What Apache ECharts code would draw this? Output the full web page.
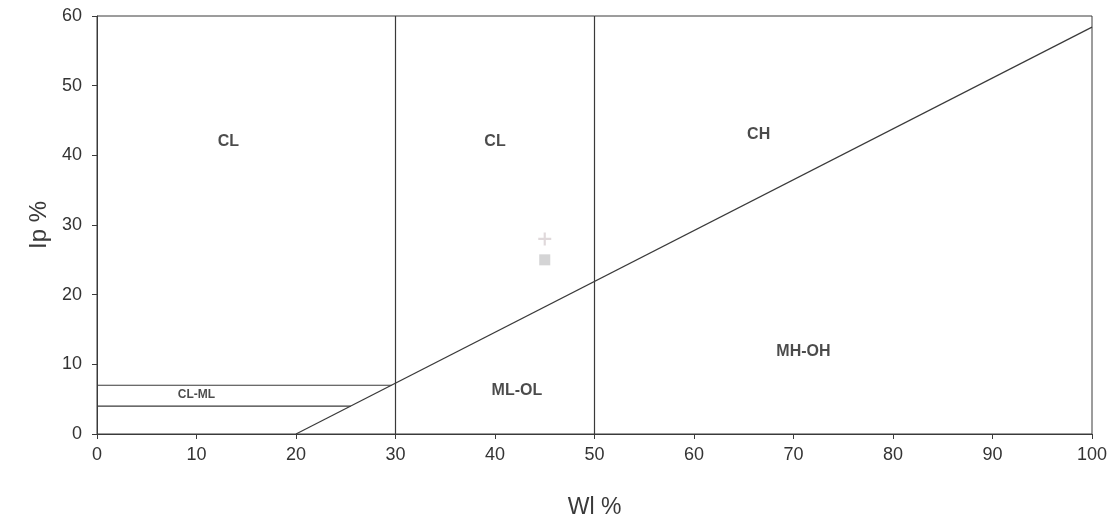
<!DOCTYPE html>
<html><head><meta charset="utf-8">
<script src="https://cdn.jsdelivr.net/npm/echarts@6/dist/echarts.min.js"></script>
<style>html,body{margin:0;padding:0;background:#fff}#c{width:1120px;height:519px}</style>
</head><body><div id="c"></div>
<script>
// Tick labels
const xTicks = [0,10,20,30,40,50,60,70,80,90,100];
const yTicks = [0,10,20,30,40,50,60];
// Boundary lines (WL %, Ip %)
const aLine = [[20,0],[100,58.4]];
const line30 = [[30,0],[30,60]];
const line50 = [[50,0],[50,60]];
const clml7 = [[0,7],[29.6,7]];
const clml4 = [[0,4],[25.5,4]];
// Zone names and positions
const zoneNames = ['CL','CL','CH','CL-ML','ML-OL','MH-OH'];
const zoneWL = [13.2,40,66.5,10,42.2,71];
const zoneIp = [42,42,43,5.6,6.2,11.8];
const zoneSize = [16,16,16,12,16,16];
// Sample points
const plusPts = [[45,28]];
const squarePts = [[45,25]];

const lineStyle = {color:'#3a3a3a', width:1.2};
const seg = (d)=>({type:'line', data:d, symbol:'none', lineStyle, silent:true, animation:false});

const chart = echarts.init(document.getElementById('c'));
chart.setOption({
  animation:false,
  grid:{left:97,right:28,top:16,bottom:85,containLabel:false,outerBoundsMode:'none',
    show:true,borderColor:'#3a3a3a',borderWidth:1},
  xAxis:{type:'value',min:0,max:100,interval:10,
    name:'Wl %',nameLocation:'middle',nameGap:62,
    nameTextStyle:{fontFamily:'Liberation Sans',fontSize:23,color:'#3a3a3a'},
    axisLine:{show:true,onZero:false,lineStyle:{color:'#3a3a3a'}},
    axisTick:{show:true,length:5,lineStyle:{color:'#3a3a3a'}},
    axisLabel:{fontFamily:'Liberation Sans',fontSize:18,color:'#333',margin:12,
      formatter:(v)=>xTicks.includes(v)?String(v):''},
    splitLine:{show:false}},
  yAxis:{type:'value',min:0,max:60,interval:10,
    name:'Ip %',nameLocation:'middle',nameGap:66,nameRotate:90,
    nameTextStyle:{fontFamily:'Liberation Sans',fontSize:24,color:'#3a3a3a',padding:[0,0,-55,0]},
    axisLine:{show:true,onZero:false,lineStyle:{color:'#3a3a3a'}},
    axisTick:{show:true,length:5,lineStyle:{color:'#3a3a3a'}},
    axisLabel:{fontFamily:'Liberation Sans',fontSize:18,color:'#333',margin:15,
      formatter:(v)=>yTicks.includes(v)?String(v):''},
    splitLine:{show:false}},
  series:[
    seg(aLine), seg(line30), seg(line50), seg(clml7), seg(clml4),
    {type:'scatter',symbolSize:0,silent:true,
      data:zoneNames.map((n,i)=>({value:[zoneWL[i],zoneIp[i]],name:n,
        label:{show:true,position:'inside',formatter:n,fontFamily:'Liberation Sans',
          fontWeight:'bold',fontSize:zoneSize[i],color:'#1e1e1e'}}))},
    {type:'scatter',data:plusPts,symbol:'path://M-1,-6L1,-6L1,-1L6,-1L6,1L1,1L1,6L-1,6L-1,1L-6,1L-6,-1L-1,-1Z',
      symbolSize:13,itemStyle:{color:'#d8cfd2'},silent:true},
    {type:'scatter',data:squarePts,symbol:'rect',symbolSize:11,itemStyle:{color:'#c9c9cb'},silent:true}
  ]
});
</script></body></html>
